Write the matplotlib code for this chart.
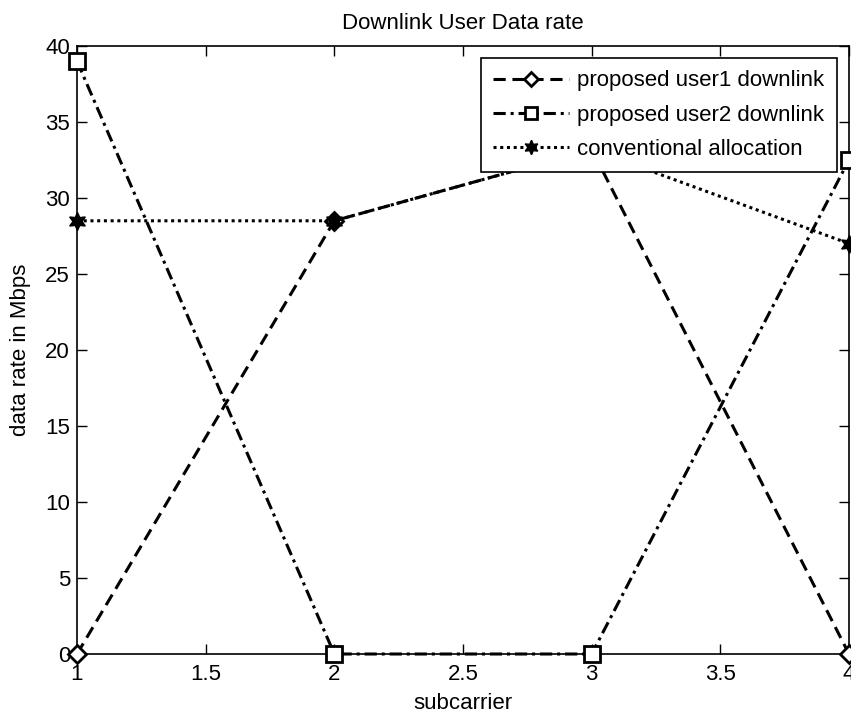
import matplotlib
matplotlib.use("Agg")
import matplotlib.pyplot as plt

subcarrier = [1, 2, 3, 4]
user1 = [0, 28.5, 33.2, 0]
user2 = [39, 0, 0, 32.5]
conventional = [28.5, 28.5, 33.2, 27]
xticks = [1, 1.5, 2, 2.5, 3, 3.5, 4]
yticks = [0, 5, 10, 15, 20, 25, 30, 35, 40]

plt.rcParams['font.family'] = ['Liberation Sans', 'DejaVu Sans']
fs = 16

fig = plt.figure(figsize=(8.51, 7.19), dpi=100)
ax = fig.add_axes([77/851, 65/719, 772/851, 608/719])

lw = 2.2
ax.plot(subcarrier, user1, linestyle=(0, (4, 2.2)), color='k', lw=lw, marker='D',
        markersize=9, markerfacecolor='white', markeredgewidth=2, label='proposed user1 downlink', clip_on=False, zorder=3)
ax.plot(subcarrier, user2, linestyle=(0, (4, 1.6, 1, 1.6)), color='k', lw=lw, marker='s',
        markersize=11, markerfacecolor='white', markeredgewidth=2, label='proposed user2 downlink', clip_on=False, zorder=3)
ax.plot(subcarrier, conventional, linestyle=(0, (1, 1.2)), color='k', lw=lw, marker=(6, 1, 0),
        markersize=13, markerfacecolor='k', markeredgewidth=1, label='conventional allocation', clip_on=False, zorder=3)

ax.set_xlim(1, 4)
ax.set_ylim(0, 40)
ax.set_xticks(xticks)
ax.set_xticklabels(['1', '1.5', '2', '2.5', '3', '3.5', '4'])
ax.set_yticks(yticks)
ax.tick_params(axis='y', pad=5)
ax.tick_params(axis='x', pad=7)
ax.tick_params(direction='in', top=True, right=True, labelsize=fs, length=7, width=1)
for s in ax.spines.values():
    s.set_linewidth(1.2)

ax.set_title('Downlink User Data rate', fontsize=fs, pad=12)
ax.set_xlabel('subcarrier', fontsize=fs, labelpad=6)
ax.set_ylabel('data rate in Mbps', fontsize=fs, labelpad=10)

leg = ax.legend(loc='upper right', fontsize=fs, frameon=True, fancybox=False,
                edgecolor='k', framealpha=1, handlelength=3.4, borderaxespad=0.55,
                labelspacing=0.6, borderpad=0.55, handletextpad=0.4, markerscale=0.8)
leg.get_frame().set_linewidth(1.2)

fig.savefig('out.png', dpi=100)
